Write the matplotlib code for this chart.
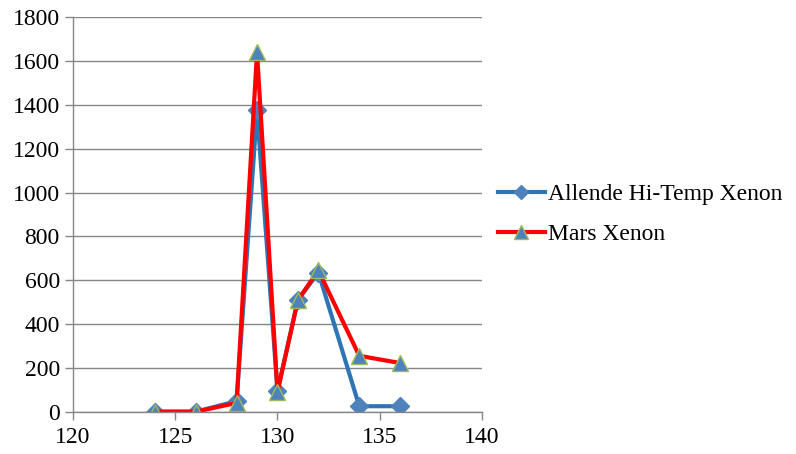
import numpy as np
import matplotlib
matplotlib.use("Agg")
import matplotlib.pyplot as plt

plt.rcParams['font.family'] = ['Liberation Serif', 'DejaVu Serif']

# data
mass = np.array([124, 126, 128, 129, 130, 131, 132, 134, 136])
allende = np.array([0, 0, 48, 1375, 95, 510, 635, 25, 25])
mars = np.array([0, 0, 40, 1640, 90, 510, 645, 255, 222])

GRAY = '#868686'

fig = plt.figure(figsize=(7.96, 4.54), dpi=100)
ax = fig.add_axes([0.0917, 0.0932, 0.5138, 0.8687])

ax.plot(mass, allende, color='#2E75B6', linewidth=3.0, marker='D', markersize=9,
        markerfacecolor='#4F81BD', markeredgecolor='#4F81BD', label='Allende Hi-Temp Xenon')
ax.plot(mass, mars, color='#FF0000', linewidth=3.0, marker='^', markersize=12,
        markerfacecolor='#4F81BD', markeredgecolor='#9BBB59', markeredgewidth=1.0,
        label='Mars Xenon')

ax.set_xlim(120, 140)
ax.set_ylim(0, 1800)
ax.set_xticks(np.arange(120, 141, 5))
ax.set_yticks(np.arange(0, 1801, 200))
ax.yaxis.grid(True, color=GRAY, linewidth=1.0)
ax.set_axisbelow(True)

for s in ['top', 'right']:
    ax.spines[s].set_visible(False)
for s in ['left', 'bottom']:
    ax.spines[s].set_color(GRAY)
    ax.spines[s].set_linewidth(1.0)
ax.tick_params(axis='both', colors=GRAY, labelcolor='black', labelsize=17,
               length=6, width=1.0, direction='out')
ax.tick_params(axis='x', pad=5)

leg = ax.legend(loc='center left', bbox_to_anchor=(1.015, 0.50), frameon=False,
                fontsize=17, handlelength=2.0, handletextpad=0.15, labelspacing=0.8,
                borderaxespad=0, markerscale=0.8)

fig.savefig('out.png', dpi=100)
